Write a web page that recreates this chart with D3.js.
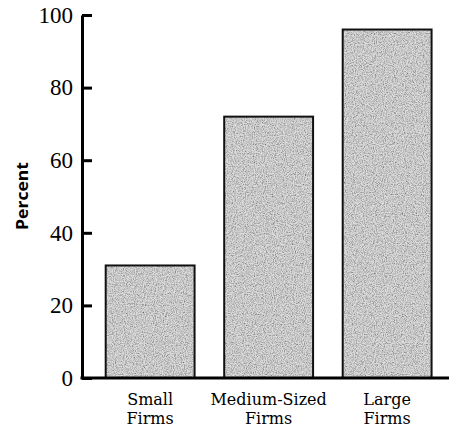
<!DOCTYPE html>
<html><head><meta charset="utf-8">
<script src="https://cdn.jsdelivr.net/npm/d3@7"></script>
<style>body{margin:0;background:#fff}</style>
</head><body>
<svg id="c" width="449" height="431"></svg>
<script>
const categories = ["Small Firms", "Medium-Sized Firms", "Large Firms"];
const labelLines = [["Small", "Firms"], ["Medium-Sized", "Firms"], ["Large", "Firms"]];
const values = [31, 72, 96];
const yTicks = [0, 20, 40, 60, 80, 100];
const yTitle = "Percent";

const svg = d3.select("#c");
const defs = svg.append("defs");
const f = defs.append("filter").attr("id", "grain").attr("x", 0).attr("y", 0).attr("width", 1).attr("height", 1);
f.append("feTurbulence").attr("type", "fractalNoise").attr("baseFrequency", "0.9").attr("numOctaves", 3).attr("seed", 4).attr("result", "n");
f.append("feColorMatrix").attr("in", "n").attr("type", "matrix")
  .attr("values", "0 0 0 0 0  0 0 0 0 0  0 0 0 0 0  0 0 0 -1.4 0.9").attr("result", "a");
f.append("feComposite").attr("in", "a").attr("in2", "SourceGraphic").attr("operator", "in").attr("result", "d");
f.append("feMerge").call(m => { m.append("feMergeNode").attr("in", "SourceGraphic"); m.append("feMergeNode").attr("in", "d"); });

const x0 = 82, yTop = 15, yBot = 378;
const y = d3.scaleLinear().domain([0, 100]).range([yBot, yTop]);
const x = d3.scaleBand().domain(categories).range([x0, x0 + 118.5 * 3.15]).paddingInner(0.25).paddingOuter(0.2);

// bars
const g = svg.append("g");
g.selectAll("rect.fill").data(values).join("rect")
  .attr("x", (d, i) => x(categories[i]))
  .attr("y", d => y(d))
  .attr("width", x.bandwidth())
  .attr("height", d => y(0) - y(d))
  .attr("fill", "#dcdcdc")
  .attr("filter", "url(#grain)");
g.selectAll("rect.edge").data(values).join("rect")
  .attr("x", (d, i) => x(categories[i]))
  .attr("y", d => y(d))
  .attr("width", x.bandwidth())
  .attr("height", d => y(0) - y(d))
  .attr("fill", "none").attr("stroke", "#111").attr("stroke-width", 2);

// y axis
const ya = svg.append("g").attr("transform", `translate(${x0},0)`)
  .call(d3.axisLeft(y).tickValues(yTicks).tickSizeInner(-10).tickSizeOuter(0).tickPadding(9));
ya.select(".domain").attr("stroke", "#000").attr("stroke-width", 3);
ya.selectAll(".tick line").attr("stroke", "#000").attr("stroke-width", 3);
ya.selectAll(".tick text").attr("font-family", "Liberation Serif").attr("font-size", 23).attr("fill", "#000");

// x baseline
svg.append("line").attr("x1", x0 - 1.5).attr("x2", 449).attr("y1", y(0)).attr("y2", y(0))
  .attr("stroke", "#000").attr("stroke-width", 3);

// category labels
categories.forEach((c, i) => {
  const t = svg.append("text").attr("text-anchor", "middle")
    .attr("font-family", "DejaVu Serif").attr("font-size", 16).attr("fill", "#000");
  labelLines[i].forEach((ln, j) => {
    t.append("tspan").attr("x", x(c) + x.bandwidth() / 2).attr("y", 405 + j * 19).text(ln);
  });
});

// y title
svg.append("text").attr("transform", `translate(28,196) rotate(-90)`)
  .attr("text-anchor", "middle").attr("font-family", "Open Sans").attr("font-weight", "bold")
  .attr("font-size", 16).attr("textLength", 68).attr("lengthAdjust", "spacingAndGlyphs")
  .attr("fill", "#000").text(yTitle);
</script>
</body></html>
